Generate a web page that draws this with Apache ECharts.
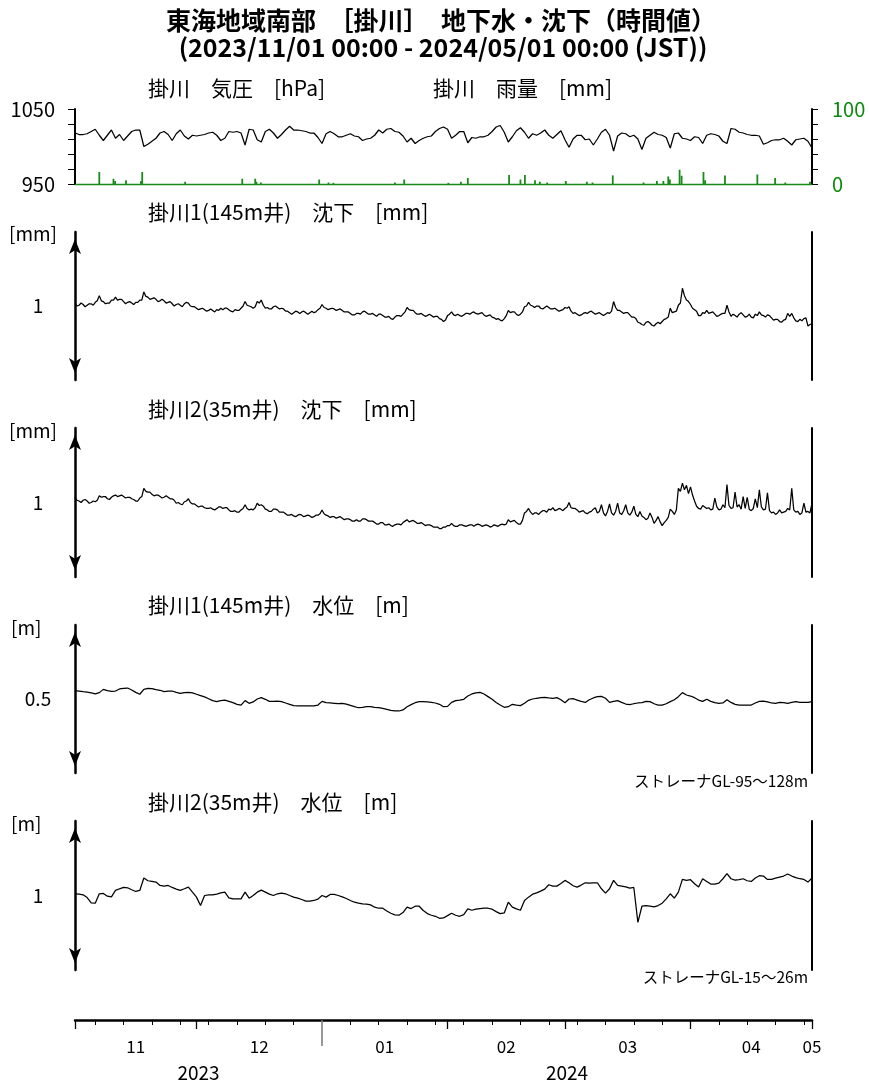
<!DOCTYPE html>
<html><head><meta charset="utf-8">
<script src="https://cdn.jsdelivr.net/npm/echarts@6/dist/echarts.min.js"></script>
<style>html,body{margin:0;padding:0;background:#fff}#c{width:869px;height:1086px}</style>
</head><body><div id="c"></div><script>
// ---- data (samples from 2023/11/01 00:00; daily arrays at day i, noon arrays at day i+0.5) ----
const pressure = [1018,1016,1016,1017,1020,1023,1015,1008,1015,1022,
 1011,1016,1008,1014,1020,1022,1022,1000,1003,1007,
 1011,1018,1020,1016,1008,1017,1022,1014,1010,1015,
 1014,1015,1016,1018,1019,1015,1008,1011,1020,1019,
 1020,1018,1002,1023,1022,1009,1006,1020,1023,1018,
 1011,1016,1022,1027,1022,1022,1021,1020,1018,1018,
 1012,1004,1017,1020,1017,1013,1013,1015,1017,1014,
 1013,1008,1010,1011,1015,1022,1018,1023,1024,1020,
 1019,1014,1006,1011,1004,1008,1011,1013,1014,1020,
 1024,1026,1023,1011,1015,1020,1020,1005,1012,1011,
 1013,1013,1015,1020,1026,1028,1019,1006,1013,1021,
 1025,1019,1011,1017,1015,1018,1022,1015,1011,1016,
 1021,1009,999,1010,1015,1015,1009,1010,1002,1010,
 1019,1023,1015,994,1014,1018,1017,1013,1015,1010,
 996,1011,1015,1019,1016,1015,1012,998,1017,1018,
 1011,1010,1008,1013,1012,1004,1015,1017,1016,1014,
 1007,1004,1024,1023,1019,1018,1016,1015,1015,1014,
 1003,1005,1008,1009,1009,1011,1007,1002,1009,1010,
 1011,1007,998];
const rainDay = [6.0,9.5,9.9,12.6,16.3,16.6,27.2,41.3,44.5,44.8,45.9,60.3,62.6,63.8,79.0,81.3,92.2,95.3,97.0,107.2,110.0,111.1,113.6,114.8,116.6,121.2,126.4,127.8,132.8,140.4,143.7,145.3,146.5,146.9,149.3,149.8,155.2,155.6,160.5,168.5,172.9,175.4,181.5];
const rainMm = [16,7,4,5,4,16,3,7,7,3,2,6,2,1.5,2,6,1.5,3,8,12,6,12,5,3,2,4,3,2,11.5,2,4,4,10,6,19,11,16,5,11.5,12.7,8,2,3];
const sub145 = [1.04,1.01,1.02,1.01,1.03,1.05,1.14,1.06,1.04,1.08,
 1.12,1.09,1.06,1.05,1.04,1.05,1.08,1.19,1.12,1.10,
 1.09,1.07,1.07,1.05,1.03,1.02,1.01,1.03,1.04,0.99,
 0.97,0.96,0.95,0.94,0.94,0.95,0.97,0.97,0.95,0.92,
 0.94,0.97,1.06,1.00,0.97,1.06,1.08,0.97,0.96,0.99,
 0.98,0.97,0.93,0.91,0.91,0.92,0.92,0.91,0.91,0.91,
 0.95,1.02,0.97,0.96,0.96,0.95,0.94,0.92,0.90,0.88,
 0.90,0.92,0.91,0.89,0.88,0.89,0.87,0.85,0.83,0.85,
 0.87,0.89,0.98,0.94,0.91,0.89,0.88,0.87,0.87,0.86,
 0.83,0.79,0.87,0.92,0.87,0.87,0.88,0.90,0.91,0.90,
 0.90,0.88,0.87,0.85,0.82,0.81,0.83,0.94,0.92,0.89,
 0.89,0.99,1.05,1.00,1.00,0.97,0.98,0.98,0.96,0.95,
 0.94,0.98,0.99,0.90,0.89,0.88,0.91,0.92,0.91,0.90,
 0.89,0.89,0.90,1.06,0.94,0.92,0.91,0.88,0.85,0.78,
 0.75,0.78,0.77,0.73,0.78,0.79,0.83,0.97,0.92,1.01,
 1.24,1.08,1.02,0.95,0.87,0.91,0.94,0.91,0.89,0.87,
 0.90,1.01,0.86,0.87,0.89,0.88,0.86,0.85,0.89,0.92,
 0.87,0.88,0.84,0.82,0.79,0.81,0.90,0.90,0.80,0.82,
 0.83,0.73,0.76];
const sub145Noon = [1.00,1.04,0.99,1.03,1.01,1.07,1.07,1.03,1.04,1.08,
 1.08,1.09,1.03,1.06,1.02,1.05,1.08,1.13,1.09,1.11,
 1.06,1.09,1.04,1.06,1.00,1.03,0.99,1.05,1.00,0.99,
 0.95,0.97,0.93,0.96,0.92,0.94,0.95,0.97,0.93,0.95,
 0.94,1.00,1.01,0.99,0.99,1.04,1.01,0.98,0.96,1.00,
 0.96,0.96,0.93,0.89,0.93,0.90,0.93,0.89,0.93,0.92,
 0.97,0.98,0.95,0.97,0.94,0.96,0.92,0.92,0.88,0.90,
 0.89,0.93,0.89,0.90,0.86,0.89,0.85,0.86,0.82,0.87,
 0.86,0.92,0.95,0.94,0.89,0.90,0.86,0.89,0.85,0.86,
 0.82,0.81,0.89,0.88,0.89,0.86,0.90,0.89,0.92,0.89,
 0.91,0.86,0.88,0.84,0.83,0.80,0.87,0.91,0.92,0.87,
 0.92,1.00,1.01,0.98,1.00,0.96,1.00,0.96,0.97,0.93,
 0.95,0.97,0.93,0.91,0.87,0.90,0.90,0.93,0.89,0.91,
 0.87,0.91,0.93,0.98,0.94,0.90,0.91,0.85,0.83,0.77,
 0.74,0.79,0.74,0.76,0.76,0.82,0.85,0.91,0.93,1.04,
 1.14,1.06,0.97,0.93,0.87,0.90,0.90,0.92,0.86,0.89,
 0.90,0.92,0.89,0.85,0.91,0.85,0.89,0.84,0.87,0.88,
 0.85,0.87,0.81,0.82,0.78,0.82,0.86,0.84,0.79,0.80,
 0.84,0.75];
const sub35 = [1.07,1.02,1.03,1.02,1.00,1.01,1.09,1.08,1.05,1.07,
 1.10,1.09,1.08,1.07,1.05,1.02,1.06,1.19,1.14,1.11,
 1.10,1.08,1.07,1.07,1.05,0.99,0.98,1.01,1.05,0.98,
 0.96,0.95,0.93,0.92,0.91,0.92,0.94,0.93,0.90,0.88,
 0.87,0.90,0.97,0.90,0.90,0.99,0.97,0.91,0.88,0.91,
 0.90,0.87,0.85,0.83,0.82,0.83,0.83,0.82,0.82,0.81,
 0.83,0.90,0.83,0.80,0.81,0.80,0.79,0.78,0.77,0.75,
 0.75,0.78,0.77,0.75,0.73,0.71,0.73,0.70,0.69,0.70,
 0.71,0.73,0.77,0.75,0.74,0.72,0.71,0.70,0.69,0.67,
 0.65,0.67,0.69,0.72,0.68,0.70,0.69,0.69,0.70,0.70,
 0.70,0.69,0.69,0.68,0.69,0.70,0.70,0.77,0.75,0.73,
 0.71,0.86,0.92,0.84,0.86,0.87,0.89,0.91,0.93,0.90,
 0.91,0.92,1.00,0.92,0.90,0.88,0.86,0.87,0.91,0.86,
 0.97,0.82,0.98,0.83,0.99,0.84,0.97,0.83,0.95,0.81,
 0.82,0.77,0.86,0.72,0.81,0.69,0.76,0.91,0.84,1.19,
 1.26,1.23,1.21,1.02,0.92,0.96,0.92,0.90,1.06,0.90,
 0.97,1.24,0.92,1.14,0.97,1.08,1.07,0.89,1.05,1.17,
 0.90,1.13,0.86,0.84,0.90,0.87,0.92,1.19,0.87,0.84,
 0.99,0.88,0.99];
const sub35Noon = [1.03,1.00,1.04,0.99,1.02,1.03,1.07,1.08,1.04,1.09,
 1.08,1.10,1.06,1.07,1.04,1.02,1.08,1.15,1.14,1.09,
 1.10,1.06,1.09,1.05,1.03,1.00,0.97,1.02,1.00,0.98,
 0.94,0.95,0.92,0.93,0.90,0.94,0.92,0.93,0.88,0.89,
 0.87,0.92,0.92,0.91,0.93,0.96,0.95,0.90,0.88,0.91,
 0.87,0.87,0.83,0.84,0.81,0.84,0.81,0.83,0.80,0.83,
 0.85,0.85,0.82,0.81,0.79,0.81,0.77,0.78,0.75,0.77,
 0.75,0.78,0.75,0.75,0.71,0.73,0.70,0.71,0.68,0.71,
 0.70,0.75,0.74,0.76,0.72,0.73,0.69,0.70,0.67,0.67,
 0.65,0.67,0.69,0.69,0.68,0.70,0.68,0.70,0.68,0.71,
 0.68,0.70,0.67,0.70,0.68,0.71,0.71,0.74,0.76,0.71,
 0.76,0.88,0.87,0.86,0.84,0.89,0.87,0.90,0.89,0.92,
 0.89,0.94,0.93,0.92,0.87,0.89,0.85,0.88,0.93,0.88,
 0.86,0.88,0.86,0.88,0.86,0.89,0.86,0.87,0.84,0.88,
 0.80,0.79,0.80,0.76,0.74,0.73,0.80,0.88,0.90,1.15,
 1.17,1.12,1.10,0.95,0.91,0.94,0.93,0.91,0.94,0.91,
 0.93,0.96,0.93,0.94,0.91,0.92,0.91,0.92,0.93,0.94,
 0.91,0.89,0.87,0.86,0.86,0.88,0.90,0.90,0.88,0.86,
 0.87,0.86];
const wl145 = [0.556,0.554,0.550,0.547,0.541,0.534,0.543,0.565,0.556,0.552,
 0.554,0.568,0.572,0.574,0.561,0.545,0.532,0.565,0.572,0.570,
 0.563,0.559,0.550,0.554,0.554,0.545,0.538,0.543,0.545,0.541,
 0.532,0.523,0.514,0.502,0.489,0.482,0.489,0.493,0.484,0.475,
 0.464,0.459,0.489,0.471,0.480,0.500,0.509,0.498,0.484,0.484,
 0.486,0.482,0.473,0.464,0.455,0.453,0.453,0.453,0.453,0.453,
 0.459,0.484,0.475,0.473,0.471,0.468,0.471,0.466,0.457,0.448,
 0.441,0.444,0.448,0.448,0.444,0.441,0.437,0.430,0.423,0.419,
 0.419,0.426,0.448,0.462,0.475,0.482,0.482,0.480,0.477,0.473,
 0.464,0.448,0.450,0.477,0.489,0.493,0.498,0.520,0.534,0.541,
 0.545,0.534,0.516,0.498,0.477,0.459,0.444,0.448,0.464,0.459,
 0.455,0.471,0.491,0.500,0.505,0.509,0.511,0.507,0.505,0.509,
 0.495,0.475,0.500,0.502,0.493,0.484,0.477,0.495,0.507,0.516,
 0.518,0.505,0.477,0.484,0.489,0.477,0.466,0.462,0.468,0.473,
 0.475,0.484,0.482,0.468,0.459,0.459,0.468,0.482,0.495,0.516,
 0.543,0.527,0.520,0.509,0.493,0.484,0.498,0.484,0.475,0.471,
 0.473,0.495,0.477,0.464,0.459,0.459,0.459,0.459,0.473,0.484,
 0.486,0.480,0.473,0.471,0.477,0.475,0.471,0.477,0.482,0.477,
 0.477,0.477,0.482];
const wl35 = [1.023,1.018,1.009,0.973,0.901,0.897,1.023,1.027,0.991,0.982,
 1.068,1.090,1.108,1.104,1.077,1.054,1.068,1.234,1.198,1.189,
 1.180,1.135,1.126,1.135,1.108,1.086,1.068,1.090,1.113,1.045,
 0.978,0.865,1.000,1.009,1.009,1.018,1.036,1.045,0.969,0.955,
 0.955,0.955,1.045,0.964,1.000,1.045,1.072,1.045,1.018,1.000,
 1.023,1.032,1.023,1.000,0.978,0.964,0.946,0.924,0.924,0.933,
 0.951,1.000,0.978,1.014,1.014,1.000,0.982,0.960,0.933,0.910,
 0.897,0.888,0.883,0.874,0.843,0.829,0.829,0.793,0.762,0.739,
 0.735,0.771,0.843,0.825,0.856,0.856,0.798,0.757,0.735,0.721,
 0.694,0.699,0.730,0.762,0.735,0.721,0.744,0.820,0.802,0.816,
 0.825,0.829,0.829,0.816,0.784,0.757,0.766,0.910,0.843,0.820,
 0.802,0.933,0.978,1.018,1.036,1.059,1.086,1.144,1.126,1.126,
 1.162,1.203,1.171,1.131,1.113,1.140,1.171,1.167,1.171,1.171,
 1.090,1.032,1.090,1.203,1.135,1.126,1.117,1.099,1.108,0.640,
 0.856,0.865,0.856,0.847,0.865,0.897,0.955,1.023,0.964,1.045,
 1.216,1.203,1.212,1.158,1.113,1.225,1.189,1.153,1.153,1.167,
 1.225,1.293,1.225,1.207,1.212,1.225,1.198,1.189,1.234,1.266,
 1.261,1.216,1.216,1.234,1.248,1.261,1.288,1.261,1.239,1.225,
 1.216,1.180,1.234];
const monthLabels = ['11','12','01','02','03','04','05'];
const yearLabels = ['2023','2024'];

// ---- calendar helpers (axis ticks) ----
const START = Date.UTC(2023, 10, 1), NDAYS = 182;
const monthStarts = [], mondays = [];
for (let d = 0; d <= NDAYS; d++) {
  const dt = new Date(START + d * 86400000);
  if (dt.getUTCDate() === 1) monthStarts.push(d);
  else if (dt.getUTCDay() === 1) mondays.push(d);
}
const yearStart = monthStarts[2];
const monthPos = [];
for (let k = 0; k < monthStarts.length - 1; k++) monthPos.push((monthStarts[k] + monthStarts[k + 1]) / 2);
monthPos.push(monthStarts[monthStarts.length - 1]);
const yearPos = [(0 + yearStart) / 2, (yearStart + NDAYS) / 2];

const daily = arr => arr.map((v, i) => [i, v]);
const withNoon = (day, noon) => {
  const out = [];
  day.forEach((v, i) => { out.push([i, v]); if (i < noon.length) out.push([i + 0.5, noon[i]]); });
  return out;
};

const FONT = "'Noto Sans CJK JP','Noto Sans',sans-serif";
const L = 75, W = 737;
const panels = [
  {top: 232, h: 148, data: withNoon(sub145, sub145Noon), min: 0, max: 2, mid: 1},
  {top: 428, h: 149, data: withNoon(sub35, sub35Noon), min: 0, max: 2, mid: 1},
  {top: 625, h: 148, data: daily(wl145), min: 0, max: 1, mid: 0.5},
  {top: 821, h: 149, data: daily(wl35), min: 0, max: 2, mid: 1}
];
const grid = [{left: L, width: W, top: 109, height: 75}];
panels.forEach(p => grid.push({left: L, width: W, top: p.top, height: p.h}));
for (let k = 0; k < 5; k++) grid.push({left: L, width: W, top: 1019, height: 1});

const xAxis = [], yAxis = [], series = [];
const hid = {show: false};
for (let i = 0; i < 5; i++) {
  xAxis.push({type: 'value', gridIndex: i, min: 0, max: NDAYS, show: i === 0,
    axisLine: {onZero: false, lineStyle: {color: '#1a8a1a', width: 1.4}},
    axisTick: hid, axisLabel: hid, splitLine: hid});
}
const botBase = (gi) => ({type: 'value', gridIndex: gi, min: 0, max: NDAYS, position: 'bottom',
  axisLine: {show: false, onZero: false}, axisTick: hid, axisLabel: hid, splitLine: hid});
xAxis.push(Object.assign(botBase(5), {
  axisLine: {show: true, onZero: false, lineStyle: {color: '#000', width: 2.5}},
  axisTick: {show: true, customValues: mondays, length: 5, lineStyle: {color: '#000', width: 1}}}));
xAxis.push(Object.assign(botBase(6), {
  axisTick: {show: true, customValues: monthStarts.filter(d => d !== yearStart), length: 9, lineStyle: {color: '#000', width: 1.3}}}));
xAxis.push(Object.assign(botBase(7), {
  axisTick: {show: true, customValues: [yearStart], length: 26, lineStyle: {color: '#777', width: 1.5}}}));
xAxis.push(Object.assign(botBase(8), {
  axisLabel: {show: true, customValues: monthPos, margin: 18, fontSize: 17, fontFamily: FONT, color: '#000',
    formatter: v => { const k = monthPos.findIndex(p => Math.abs(p - v) < 0.01); return k >= 0 ? monthLabels[k] : ''; }}}));
xAxis.push(Object.assign(botBase(9), {
  axisLabel: {show: true, customValues: yearPos, margin: 43, fontSize: 19, fontFamily: FONT, color: '#000',
    formatter: v => { const k = yearPos.findIndex(p => Math.abs(p - v) < 0.01); return k >= 0 ? yearLabels[k] : ''; }}}));

const plain = v => String(v);
yAxis.push({type: 'value', gridIndex: 0, min: 950, max: 1050, interval: 20, position: 'left',
  axisLine: {show: true, lineStyle: {color: '#000', width: 2}},
  axisTick: {show: true, length: 7, lineStyle: {color: '#000', width: 1}},
  axisLabel: {customValues: [950, 1050], formatter: plain, margin: 20, fontSize: 20, fontFamily: FONT, color: '#000'},
  splitLine: hid});
yAxis.push({type: 'value', gridIndex: 0, min: 0, max: 100, interval: 20, position: 'right',
  axisLine: {show: true, lineStyle: {color: '#000', width: 2}},
  axisTick: {show: true, length: 6, lineStyle: {color: '#000', width: 1}},
  axisLabel: {customValues: [0, 100], formatter: plain, margin: 20, fontSize: 20, fontFamily: FONT, color: '#0a8a0a', align: 'left'},
  splitLine: hid});
series.push({type: 'line', xAxisIndex: 0, yAxisIndex: 0, showSymbol: false, silent: true,
  data: daily(pressure), lineStyle: {color: '#000', width: 1.25}});
series.push({type: 'bar', xAxisIndex: 0, yAxisIndex: 1, barWidth: 1.8, silent: true,
  data: rainDay.map((d, i) => [d, rainMm[i]]), itemStyle: {color: '#1a8a1a'}});

panels.forEach((p, i) => {
  const gi = i + 1;
  yAxis.push({type: 'value', gridIndex: gi, min: p.min, max: p.max, position: 'left',
    axisLine: {show: true, symbol: ['arrow', 'arrow'], symbolSize: [9, 15], symbolOffset: [7, -7],
      lineStyle: {color: '#000', width: 2.5}},
    axisTick: hid,
    axisLabel: {customValues: [p.mid], formatter: plain, margin: 37, align: 'center', fontSize: 19, fontFamily: FONT, color: '#000'},
    splitLine: hid});
  yAxis.push({type: 'value', gridIndex: gi, min: p.min, max: p.max, position: 'right',
    axisLine: {show: true, lineStyle: {color: '#000', width: 2}}, axisTick: hid, axisLabel: hid, splitLine: hid});
  series.push({type: 'line', xAxisIndex: gi, yAxisIndex: 2 + 2 * i, showSymbol: false, silent: true,
    data: p.data, lineStyle: {color: '#000', width: 1.25}});
});
for (let k = 5; k < 10; k++) yAxis.push({type: 'value', gridIndex: k, min: 0, max: 1, show: false});

const txt = (x, y, text, o = {}) => ({type: 'text', x, y, silent: true, style: {
  text, fontSize: o.size || 21, fontFamily: FONT, fontWeight: o.bold ? 'bold' : 'normal',
  fill: o.color || '#000', align: o.align || 'left', verticalAlign: 'middle'}});
const graphic = [
  txt(441, 20, '東海地域南部　［掛川］　地下水・沈下（時間値）', {size: 25, bold: true, align: 'center'}),
  txt(443, 47, '(2023/11/01 00:00 - 2024/05/01 00:00 (JST))', {size: 25, bold: true, align: 'center'}),
  txt(148, 88, '掛川　気圧　[hPa]'),
  txt(433, 88, '掛川　雨量　[mm]'),
  txt(148, 212, '掛川1(145m井)　沈下　[mm]'),
  txt(148, 409, '掛川2(35m井)　沈下　[mm]'),
  txt(148, 605, '掛川1(145m井)　水位　[m]'),
  txt(148, 802, '掛川2(35m井)　水位　[m]'),
  txt(9, 234, '[mm]', {size: 19}),
  txt(9, 431, '[mm]', {size: 19}),
  txt(11, 628, '[m]', {size: 19}),
  txt(11, 824, '[m]', {size: 19}),
  txt(808, 781, 'ストレーナGL-95～128m', {size: 15.5, align: 'right'}),
  txt(808, 977, 'ストレーナGL-15～26m', {size: 15.5, align: 'right'})
];

const chart = echarts.init(document.getElementById('c'), null, {renderer: 'canvas'});
chart.setOption({animation: false, backgroundColor: '#fff', grid, xAxis, yAxis, series, graphic});
</script></body></html>
